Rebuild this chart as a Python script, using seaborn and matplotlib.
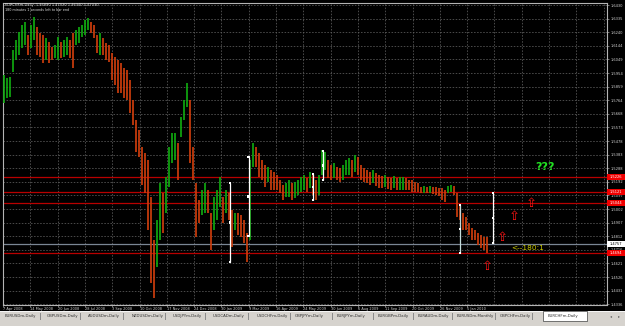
import numpy as np
import pandas as pd
import matplotlib
matplotlib.use("Agg")
import matplotlib.pyplot as plt
from matplotlib.patches import Rectangle
import matplotlib.transforms as mtrans
import seaborn as sns

# ---------------- data ----------------
bar_high = [1.5940, 1.5919, 1.5926, 1.6115, 1.6185, 1.6241, 1.6290, 1.6311, 1.6220, 1.6290,
            1.6346, 1.6276, 1.6234, 1.6220, 1.6199, 1.6171, 1.6136, 1.6150, 1.6206, 1.6171,
            1.6185, 1.6206, 1.6185, 1.6234, 1.6255, 1.6276, 1.6290, 1.6325, 1.6339, 1.6311,
            1.6290, 1.6220, 1.6234, 1.6199, 1.6164, 1.6150, 1.6094, 1.6066, 1.6045, 1.6024,
            1.5989, 1.5975, 1.5905, 1.5765, 1.5625, 1.5555, 1.5436, 1.5394, 1.5345, 1.5086,
            1.4785, 1.4925, 1.5184, 1.5114, 1.5226, 1.5436, 1.5534, 1.5534, 1.5464, 1.5646,
            1.5765, 1.5884, 1.5765, 1.5436, 1.5184, 1.5065, 1.5135, 1.5184, 1.5135, 1.4974,
            1.5086, 1.5135, 1.5226, 1.5086, 1.5135, 1.5114, 1.4995, 1.4974, 1.4974, 1.4960,
            1.4925, 1.4834, 1.5345, 1.5464, 1.5436, 1.5394, 1.5345, 1.5310, 1.5296, 1.5275,
            1.5261, 1.5240, 1.5205, 1.5170, 1.5184, 1.5205, 1.5184, 1.5191, 1.5205, 1.5226,
            1.5240, 1.5219, 1.5261, 1.5240, 1.5205, 1.5240, 1.5415, 1.5401, 1.5345, 1.5310,
            1.5324, 1.5296, 1.5289, 1.5310, 1.5345, 1.5359, 1.5345, 1.5380, 1.5366, 1.5310,
            1.5289, 1.5275, 1.5261, 1.5275, 1.5254, 1.5240, 1.5233, 1.5240, 1.5226, 1.5219,
            1.5233, 1.5219, 1.5226, 1.5226, 1.5219, 1.5205, 1.5205, 1.5191, 1.5184, 1.5156,
            1.5163, 1.5156, 1.5163, 1.5156, 1.5156, 1.5149, 1.5149, 1.5135, 1.5163, 1.5170,
            1.5163, 1.5114, 1.5030, 1.4974, 1.4946, 1.4904, 1.4869, 1.4855, 1.4834, 1.4820,
            1.4806, 1.4806]
bar_low = [1.5744, 1.5779, 1.5786, 1.5961, 1.6045, 1.6080, 1.6129, 1.6150, 1.6080, 1.6129,
           1.6185, 1.6080, 1.6066, 1.6024, 1.6045, 1.6024, 1.6045, 1.6059, 1.6045, 1.6059,
           1.6066, 1.6080, 1.6059, 1.5989, 1.6150, 1.6164, 1.6206, 1.6220, 1.6255, 1.6234,
           1.6199, 1.6094, 1.6080, 1.6080, 1.6045, 1.6031, 1.5905, 1.5870, 1.5814, 1.5814,
           1.5779, 1.5765, 1.5674, 1.5590, 1.5401, 1.5366, 1.5170, 1.5114, 1.4855, 1.4484,
           1.4379, 1.4596, 1.4785, 1.4834, 1.4974, 1.5156, 1.5324, 1.5345, 1.5205, 1.5506,
           1.5625, 1.5716, 1.5324, 1.5205, 1.4806, 1.4904, 1.4960, 1.4974, 1.4974, 1.4715,
           1.4855, 1.4925, 1.5016, 1.4904, 1.4974, 1.4925, 1.4736, 1.4855, 1.4820, 1.4806,
           1.4764, 1.4631, 1.4785, 1.5296, 1.5296, 1.5226, 1.5205, 1.5156, 1.5191, 1.5135,
           1.5135, 1.5135, 1.5114, 1.5065, 1.5086, 1.5086, 1.5065, 1.5079, 1.5100, 1.5121,
           1.5135, 1.5121, 1.5149, 1.5100, 1.5065, 1.5100, 1.5240, 1.5275, 1.5219, 1.5205,
           1.5219, 1.5205, 1.5191, 1.5205, 1.5240, 1.5240, 1.5226, 1.5261, 1.5240, 1.5205,
           1.5191, 1.5184, 1.5170, 1.5184, 1.5163, 1.5149, 1.5149, 1.5156, 1.5142, 1.5135,
           1.5149, 1.5135, 1.5135, 1.5135, 1.5135, 1.5135, 1.5121, 1.5121, 1.5121, 1.5114,
           1.5114, 1.5114, 1.5114, 1.5107, 1.5100, 1.5093, 1.5065, 1.5051, 1.5114, 1.5121,
           1.5100, 1.4946, 1.4925, 1.4855, 1.4855, 1.4820, 1.4785, 1.4785, 1.4750, 1.4729,
           1.4715, 1.4694]

price_ticks = [1.6430, 1.6335, 1.6240, 1.6144, 1.6049, 1.5954, 1.5859, 1.5764, 1.5668,
               1.5573, 1.5478, 1.5383, 1.5288, 1.5192, 1.5097, 1.5002, 1.4907, 1.4812,
               1.4716, 1.4621, 1.4526, 1.4431, 1.4336]
date_labels = ["7 Apr 2008", "14 May 2008", "20 Jun 2008", "28 Jul 2008", "3 Sep 2008",
               "10 Oct 2008", "17 Nov 2008", "24 Dec 2008", "30 Jan 2009", "9 Mar 2009",
               "16 Apr 2009", "24 May 2009", "30 Jun 2009", "6 Aug 2009", "11 Sep 2009",
               "20 Oct 2009", "26 Nov 2009", "5 Jan 2010"]

red_levels = [1.5226, 1.5121, 1.5044, 1.4694]
bid_level = 1.4757

marker_bar = [227, 245.5, 310, 320, 457, 490]
marker_top = [1.5184, 1.5366, 1.5247, 1.5408, 1.5030, 1.5114]
marker_bottom = [1.4631, 1.4813, 1.5065, 1.5205, 1.4694, 1.4764]
marker_color = ["white", "white", "white", "white", "#C4DCDC", "white"]

arrow_bar = [484, 499, 511, 528]
arrow_price = [1.4600, 1.4806, 1.4953, 1.5044]

tabs = ["EURUSDm,Daily", "GBPUSDm,Daily", "AUDUSDm,Daily", "NZDUSDm,Daily",
        "USDJPYm,Daily", "USDCADm,Daily", "USDCHFm,Daily", "GBPJPYm,Daily",
        "EURJPYm,Daily", "EURGBPm,Daily", "EURAUDm,Daily", "EURUSDm,Monthly",
        "GBPCHFm,Daily", "EURCHFm,Daily"]
header1 = "EURCHFm,Daily  1.46890 1.47030 1.46340 1.47030"
header2 = "180 minutes 1 seconds left to bar end"

# ---------------- style ----------------
sns.set_theme(style="dark", rc={
    "figure.facecolor": "black", "axes.facecolor": "black",
    "axes.edgecolor": "#B4B4B4", "axes.linewidth": 0.8,
    "text.color": "#D8D8D8", "axes.grid": False,
})
plt.rcParams["font.family"] = ["DejaVu Sans"]

W, H = 625, 326
fig = plt.figure(figsize=(W / 100, H / 100), dpi=100, facecolor="black")
ax = fig.add_axes([3 / W, 21 / H, 604 / W, 302 / H])
ax.set_facecolor("black")
ax.set_xlim(0, 604)
ax.set_ylim(1.4330, 1.6444)

STEP = 27.3
grid_x = [STEP * k for k in range(23)]
ax.vlines(grid_x, 1.4330, 1.6444, colors="#5E5E5E", linewidth=0.55,
          linestyles=(0, (2, 2)), zorder=1)
ax.hlines(price_ticks, 0, 604, colors="#5E5E5E", linewidth=0.55,
          linestyles=(0, (2, 2)), zorder=1)

# level lines
ax.hlines(red_levels, 0, 604, colors="#B80000", linewidth=0.9, zorder=2)
ax.hlines([bid_level], 0, 604, colors="#7A8694", linewidth=0.9, zorder=2)

# candles
df = pd.DataFrame({"hi": bar_high, "lo": bar_low})
df["x"] = 1 + 3 * np.arange(len(df))
mid = (df["hi"] + df["lo"]) / 2
up = mid >= mid.shift(1).fillna(mid.iloc[0])
cols = np.where(up, "#10A810", "#CC3C0C")
ax.vlines(df["x"], df["lo"], df["hi"], colors=cols, linewidth=1.25, zorder=3)

# measurement markers
for xb, t, b, c in zip(marker_bar, marker_top, marker_bottom, marker_color):
    ax.vlines([xb], [b], [t], colors=c, linewidth=0.9, zorder=4)
mk = pd.DataFrame({"x": marker_bar * 3,
                   "y": marker_top + marker_bottom +
                        [(t + b) / 2 for t, b in zip(marker_top, marker_bottom)]})
sns.scatterplot(data=mk, x="x", y="y", marker="s", s=3.5, color="white",
                edgecolor="none", ax=ax, zorder=5, legend=False)
ax.set_xlabel("")
ax.set_ylabel("")

# arrows and notes
for xb, yp in zip(arrow_bar, arrow_price):
    ax.text(xb, yp, "\u21e7", color="#FF1414", fontsize=9.5, ha="center",
            va="center", zorder=6)
ax.text(542, 1.5296, "???", color="#22E022", fontsize=8, fontweight="bold",
        ha="center", va="center", zorder=6)
ax.text(508, 1.4729, "<--180:1", color="#CCCC00", fontsize=5.3, ha="left",
        va="center", zorder=6)

# header
ax.text(2, 1.6430, header1, color="#E0E0E0", fontsize=2.6, ha="left",
        va="center", zorder=6)
ax.text(2, 1.6395, header2, color="#E0E0E0", fontsize=2.4, ha="left",
        va="center", zorder=6)

# axes ticks
ax.set_xticks(grid_x[:len(date_labels)])
ax.set_xticklabels(date_labels)
for lab in ax.get_xticklabels():
    lab.set_horizontalalignment("left")
ax.yaxis.tick_right()
ax.set_yticks(price_ticks)
ax.set_yticklabels([f"{p:.4f}" for p in price_ticks])
ax.tick_params(axis="x", bottom=True, length=1.3, width=0.5, pad=0.3,
               colors="#A0A0A0", labelsize=2.5, labelcolor="#D0D0D0")
ax.tick_params(axis="y", right=True, left=False, length=1.5, width=0.5, pad=0.8,
               colors="#A0A0A0", labelsize=2.6, labelcolor="#D0D0D0")
for s in ax.spines.values():
    s.set_color("#B4B4B4")
    s.set_linewidth(0.8)

# right-hand price boxes
trans = mtrans.blended_transform_factory(ax.transAxes, ax.transData)
half = 0.0018
for lv in red_levels:
    ax.add_patch(Rectangle((1.0, lv - half), 18 / 604, 2 * half, transform=trans,
                           facecolor="#F00000", edgecolor="none", clip_on=False, zorder=7))
    ax.text(1.0 + 3 / 604, lv, f"{lv:.4f}", transform=trans, color="white",
            fontsize=2.6, ha="left", va="center", clip_on=False, zorder=8)
ax.add_patch(Rectangle((1.0, bid_level - half), 18 / 604, 2 * half, transform=trans,
                       facecolor="white", edgecolor="none", clip_on=False, zorder=7))
ax.text(1.0 + 3 / 604, bid_level, f"{bid_level:.4f}", transform=trans, color="black",
        fontsize=2.6, ha="left", va="center", clip_on=False, zorder=8)

# tab strip
fig.patches.append(Rectangle((0, 0), 1, 15 / H, transform=fig.transFigure,
                             facecolor="#D6D3CE", edgecolor="none", zorder=0))
fig.patches.append(Rectangle((0, 14.5 / H), 1, 0.6 / H, transform=fig.transFigure,
                             facecolor="#F4F4F4", edgecolor="none", zorder=1))
tab_x = [5, 47, 88, 132, 173, 213, 257, 295, 337, 378, 418, 457, 500, 548]
sep_x = [40, 80, 123, 165, 205, 248, 290, 332, 373, 413, 452, 495, 532]
for sx in sep_x:
    fig.patches.append(Rectangle((sx / W, 6 / H), 0.8 / W, 7 / H,
                                 transform=fig.transFigure, facecolor="#8C8C8C",
                                 edgecolor="none", zorder=2))
fig.patches.append(Rectangle((543 / W, 5 / H), 44 / W, 10 / H,
                             transform=fig.transFigure, facecolor="white",
                             edgecolor="#404040", linewidth=0.5, zorder=2))
for name, tx in zip(tabs, tab_x):
    fig.text(tx / W, 10 / H, name, fontsize=2.8, color="#303030",
             ha="left", va="center", zorder=3)
fig.text(611 / W, 10 / H, "\u25c2", fontsize=3, color="#606060", ha="center", va="center")
fig.text(619 / W, 10 / H, "\u25b8", fontsize=3, color="#606060", ha="center", va="center")

fig.savefig("out.png", dpi=100, facecolor="black")
